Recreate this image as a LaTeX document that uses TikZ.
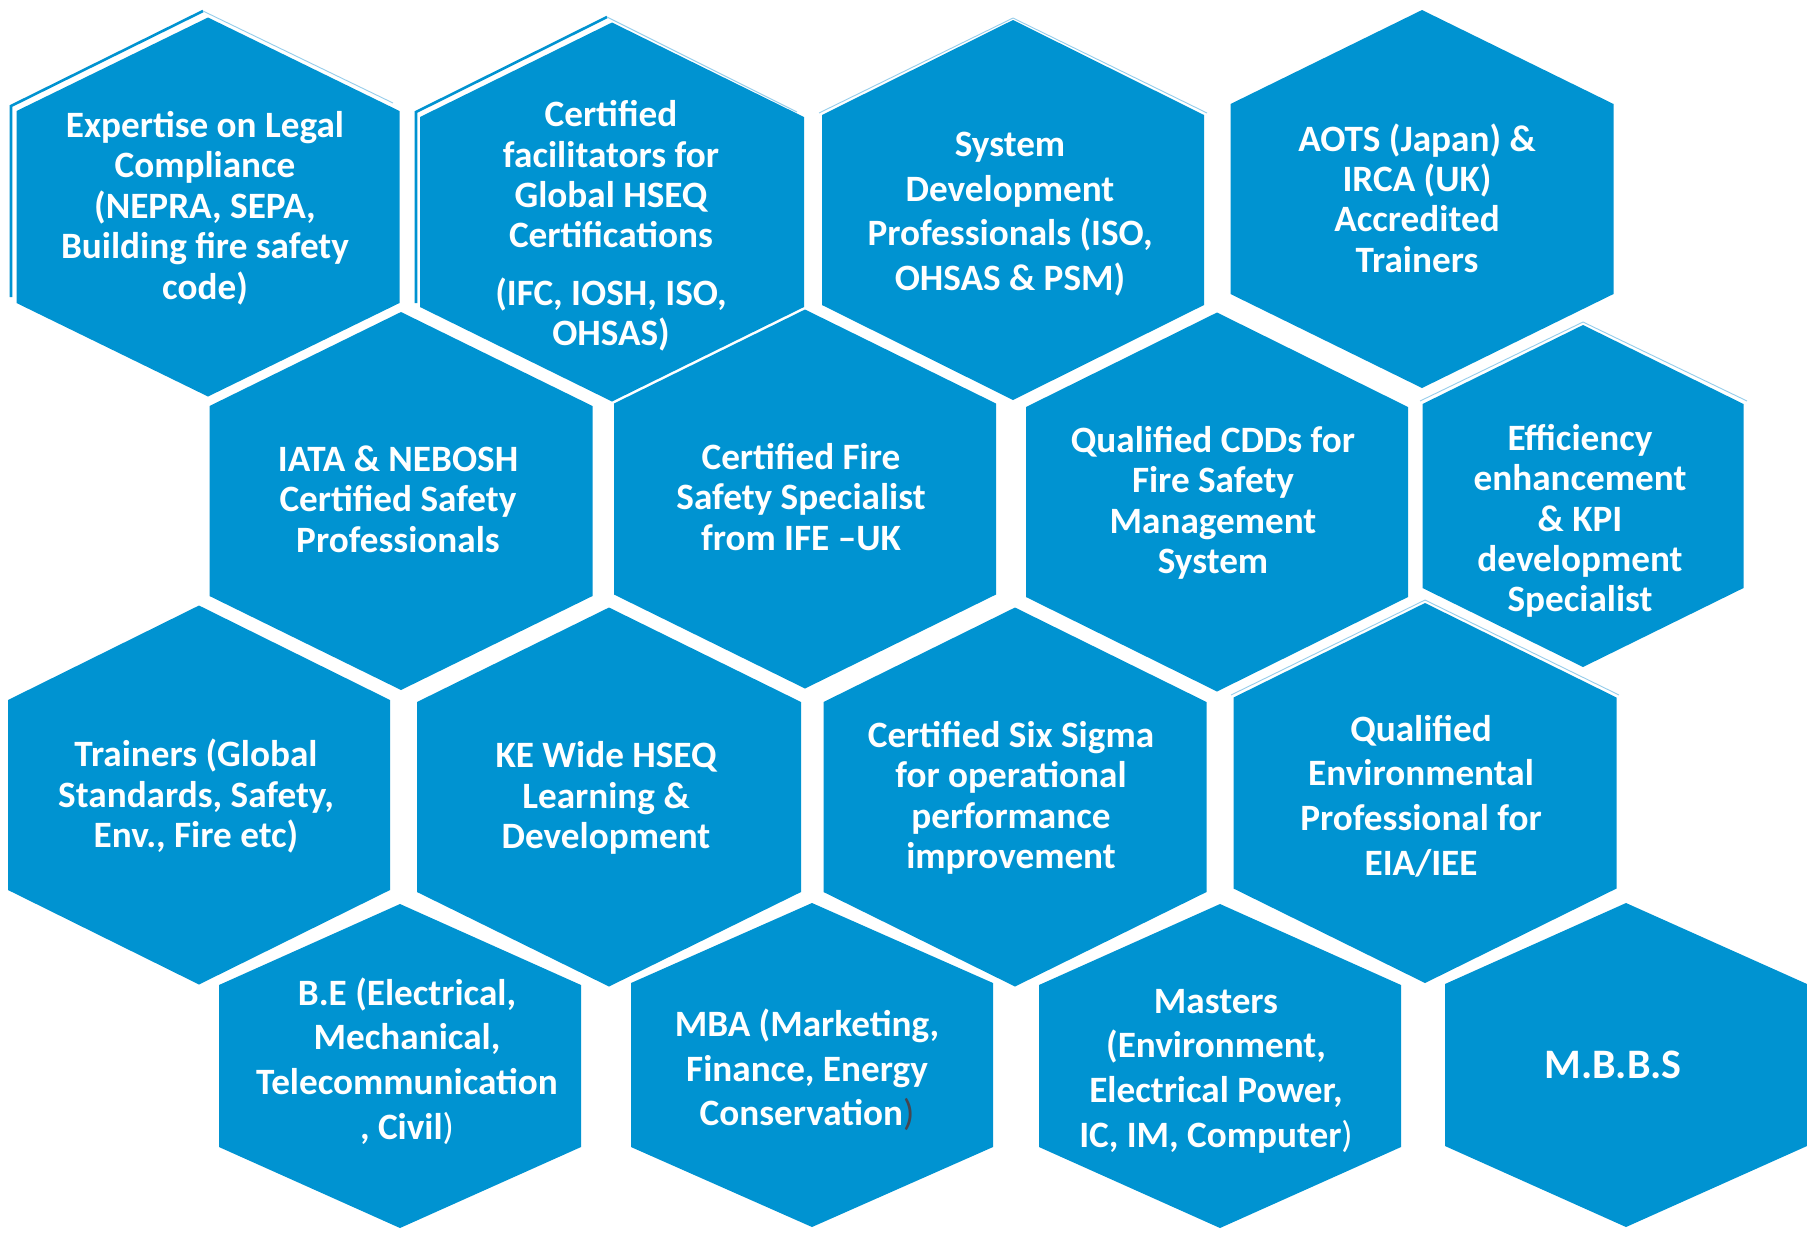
\documentclass[tikz,border=0pt]{standalone}
\usepackage{fontspec}
\setmainfont{Carlito}
\definecolor{hexblue}{RGB}{0,147,209}
\definecolor{glow}{RGB}{150,205,235}
\definecolor{darkparen}{RGB}{70,70,80}
\tikzset{
  hexfill/.style={fill=hexblue, draw=none},
  txt/.style={text=white, align=center, inner sep=0pt,
    font=\bfseries\fontsize{18.6}{20.2}\selectfont},
  txtwide/.style={txt, font=\bfseries\fontsize{18.6}{22.3}\selectfont},
  glowline/.style={draw=glow, line width=0.45pt},
  outerline/.style={draw=hexblue, line width=1.3pt},
}
% cx cy halfwidth halfheight corner-offset
\newcommand\hexcell[5]{%
  \fill[hexfill] ({#1},{#2-#4}) -- ({#1+#3},{#2-#5}) -- ({#1+#3},{#2+#5})
    -- ({#1},{#2+#4}) -- ({#1-#3},{#2+#5}) -- ({#1-#3},{#2-#5}) -- cycle;}
\begin{document}
\begin{tikzpicture}[x=0.5pt,y=-0.5pt]
\fill[white] (0,0) rectangle (1807,1233);
\useasboundingbox (0,0) rectangle (1807,1233);

% decorative outer edges
\draw[outerline] (11,297) -- (11,106) -- (203,11);
\draw[glowline] (203,11) -- (393,103);
\draw[outerline] (416,303) -- (416,112) -- (607,17);
\draw[glowline] (607,17) -- (797,112);
\draw[glowline] (819,113) -- (1013,18) -- (1207,113);
\draw[glowline] (1420,401) -- (1583,322) -- (1747,401);
\draw[glowline] (1231,695) -- (1425,600) -- (1619,695);

% row 1
\hexcell{208}{207}{191.5}{189.5}{96}
\hexcell{612}{212}{192}{189.5}{95}
\hexcell{1013}{210}{191}{190}{95}
\hexcell{1422}{199}{191.5}{189}{95}
% row 2
\hexcell{401}{501}{191.5}{189}{95}
\hexcell{805}{499}{191}{189.5}{95.5}
\hexcell{1217}{502}{191}{189.5}{95}
\hexcell{1583}{496}{160.5}{171}{92}
% row 3
\hexcell{199}{795}{191}{189.5}{95}
\hexcell{609}{797}{192}{189.5}{95}
\hexcell{1015}{797}{191.5}{189.5}{95}
\hexcell{1425}{793}{191.5}{190}{95.5}
% row 4
\hexcell{400}{1066}{181}{162}{81}
\hexcell{812}{1065}{181}{162}{82}
\hexcell{1220}{1066}{181}{162}{81}
\hexcell{1626}{1065}{181}{162}{81}

% texts
\node[txt] (t1) at (205,208) {Expertise on Legal\\Compliance\\(NEPRA, SEPA,\\Building fire safety\\code)};
\node[txt] (t2) at (611,226) {Certified\\facilitators for\\Global HSEQ\\Certifications\\[8.6pt](IFC, IOSH, ISO,\\OHSAS)};
\node[txtwide] (t3) at (1010,214) {System\\Development\\Professionals (ISO,\\OHSAS \& PSM)};
\node[txt] (t4) at (1417,198) {AOTS (Japan) \&\\IRCA (UK)\\Accredited\\Trainers};
\node[txt] (t5) at (398,499) {IATA \& NEBOSH\\Certified Safety\\Professionals};
\node[txt] (t6) at (801,497) {Certified Fire\\Safety Specialist\\from IFE –UK};
\node[txt] (t7) at (1213,503) {Qualified CDDs for\\Fire Safety\\Management\\System};
\node[txt] (t8) at (1580,521) {Efficiency\\enhancement\\\& KPI\\development\\Specialist};
\node[txt] (t9) at (196,796) {Trainers (Global\\Standards, Safety,\\Env., Fire etc)};
\node[txt] (t10) at (606,798) {KE Wide HSEQ\\Learning \&\\Development};
\node[txt] (t11) at (1011,798) {Certified Six Sigma\\for operational\\performance\\improvement};
\node[txtwide] (t12) at (1421,796) {Qualified\\Environmental\\Professional for\\EIA/IEE};
\node[txtwide] (t13) at (407,1061) {B.E (Electrical,\\Mechanical,\\Telecommunication\\, Civil{\mdseries)}};
\node[txtwide] (t14) at (807,1070) {MBA (Marketing,\\Finance, Energy\\Conservation{\mdseries\color{darkparen})}};
\node[txtwide] (t15) at (1216,1071) {Masters\\(Environment,\\Electrical Power,\\IC, IM, Computer{\mdseries)}};
\node[txt, font=\bfseries\fontsize{21}{25}\selectfont] (t16) at (1613,1065) {M.B.B.S};
\end{tikzpicture}
\end{document}
